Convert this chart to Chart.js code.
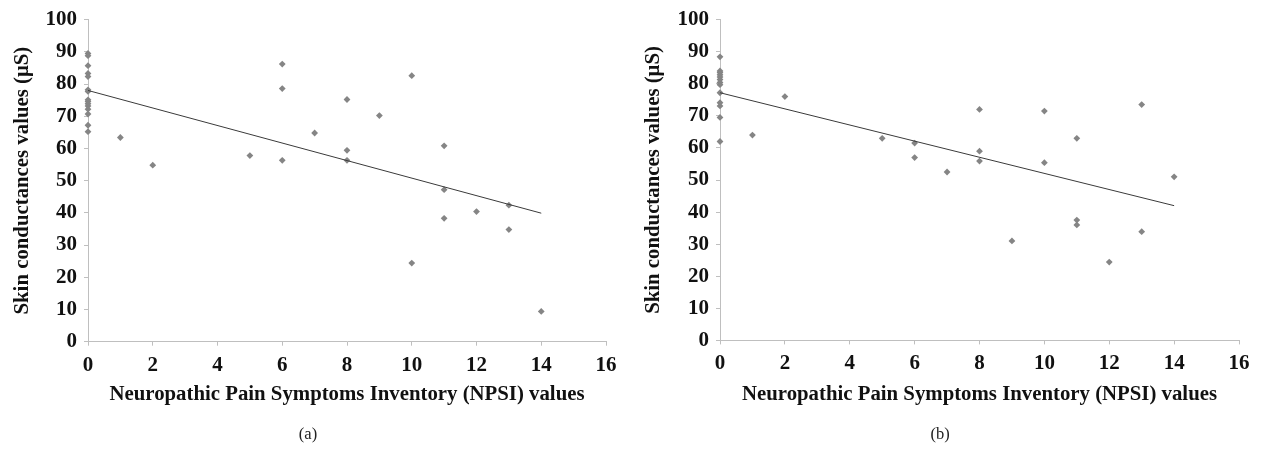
<!DOCTYPE html>
<html><head><meta charset="utf-8">
<script src="https://cdn.jsdelivr.net/npm/chart.js@4.4.1/dist/chart.umd.min.js"></script>
<style>
html,body{margin:0;padding:0;background:#fff;width:1261px;height:449px;overflow:hidden}
.panel{position:absolute;top:0;width:630px;height:449px}
canvas{display:block}
</style></head><body>
<div class="panel" style="left:0"><canvas id="ca" width="630" height="449"></canvas></div>
<div class="panel" style="left:631px"><canvas id="cb" width="630" height="449"></canvas></div>
<script>
// Axis ranges / ticks
const xTickStep = 2, xMin = 0, xMax = 16;
const yTickStep = 10, yMin = 0, yMax = 100;
const xTitle = 'Neuropathic Pain Symptoms Inventory (NPSI) values';
const yTitle = 'Skin conductances values (\u03BCS)';

// Panel (a)
const npsiA = [0,0,0,0,0,0,0,0,0,0,0,0,0,0,0, 1, 2, 5, 6,6,6, 7, 8,8,8, 9, 10,10, 11,11,11, 12, 13,13, 14];
const skinA = [89.5,88.8,85.7,83.3,82.3,78.2,77.7,75.1,74.6,73.9,73.2,72.2,70.7,67.2,65.2,
               63.4, 54.8, 57.8, 86.2,78.6,56.3, 64.8, 75.2,59.4,56.3, 70.2, 82.6,24.4, 60.8,47.2,38.3, 40.4, 42.4,34.8, 9.4];
const trendAx = [0, 14];
const trendAy = [78.0, 39.9];

// Panel (b)
const npsiB = [0,0,0,0,0,0,0,0,0,0,0,0,0, 1, 2, 5, 6,6, 7, 8,8,8, 9, 10,10, 11,11,11, 12, 13,13, 14];
const skinB = [88.4,84.0,83.5,82.8,82.1,81.3,80.4,79.7,77.2,74.1,73.1,69.5,62.0,
               64.0, 76.0, 63.0, 61.5,57.0, 52.5, 72.0,59.0,55.9, 31.0, 71.5,55.4, 63.0,37.5,36.0, 24.4, 73.5,33.9, 51.0];
const trendBx = [0, 14];
const trendBy = [77.2, 42.0];

const SERIF = '"Liberation Serif","DejaVu Serif",serif';

function pts(xs, ys){ return xs.map((x,i)=>({x:x, y:ys[i]})); }

function makeChart(id, xs, ys, tx, ty, caption, geo){
  new Chart(document.getElementById(id), {
    type: 'scatter',
    data: {
      datasets: [
        { data: pts(tx, ty), showLine: true, borderColor: '#3a3a3a', borderWidth: 1,
          pointRadius: 0, pointHoverRadius: 0, fill: false, clip: false },
        { data: pts(xs, ys), pointStyle: 'rectRot', pointRadius: 3.4, pointHoverRadius: 3.4,
          backgroundColor: '#858585', borderColor: '#858585', borderWidth: 0, clip: false }
      ]
    },
    options: {
      responsive: false, animation: false, devicePixelRatio: 1,
      layout: { padding: { top: geo.top, right: geo.right, left: 10, bottom: 0 } },
      plugins: {
        legend: { display: false }, tooltip: { enabled: false },
        title: { display: true, position: 'bottom', text: caption, color: '#222',
                 font: { family: SERIF, size: 16.5, weight: 'normal', lineHeight: 1.2 },
                 padding: { top: 8, bottom: 4 } }
      },
      scales: {
        x: {
          type: 'linear', min: xMin, max: xMax,
          ticks: { stepSize: xTickStep, color: '#111', padding: 7, maxRotation: 0,
                   font: { family: SERIF, size: 21, weight: 'bold' } },
          grid: { drawOnChartArea: false, drawTicks: true, tickLength: 4, color: '#bfbfbf' },
          border: { display: true, color: '#bfbfbf', width: 1 },
          title: { display: true, text: xTitle, color: '#111',
                   font: { family: SERIF, size: 20.8, weight: 'bold', lineHeight: 1.2 },
                   padding: { top: 0, bottom: geo.xtp } },
          afterFit(s){ s.height = geo.xh; }
        },
        y: {
          type: 'linear', min: yMin, max: yMax,
          ticks: { stepSize: yTickStep, color: '#111', padding: 7,
                   font: { family: SERIF, size: 21, weight: 'bold' } },
          grid: { drawOnChartArea: false, drawTicks: true, tickLength: 4, color: '#bfbfbf' },
          border: { display: true, color: '#bfbfbf', width: 1 },
          title: { display: true, text: yTitle, color: '#111',
                   font: { family: SERIF, size: 20.8, weight: 'bold', lineHeight: 1.2 },
                   padding: { top: 0, bottom: 0 } },
          afterFit(s){ s.width = geo.yw; }
        }
      }
    }
  });
}

makeChart('ca', npsiA, skinA, trendAx, trendAy, '(a)', { top: 17, right: 24, xh: 75.5, yw: 78, xtp: 10.5 });
makeChart('cb', npsiB, skinB, trendBx, trendBy, '(b)', { top: 16, right: 22, xh: 76.8, yw: 79, xtp: 10.5 });
</script>
</body></html>
